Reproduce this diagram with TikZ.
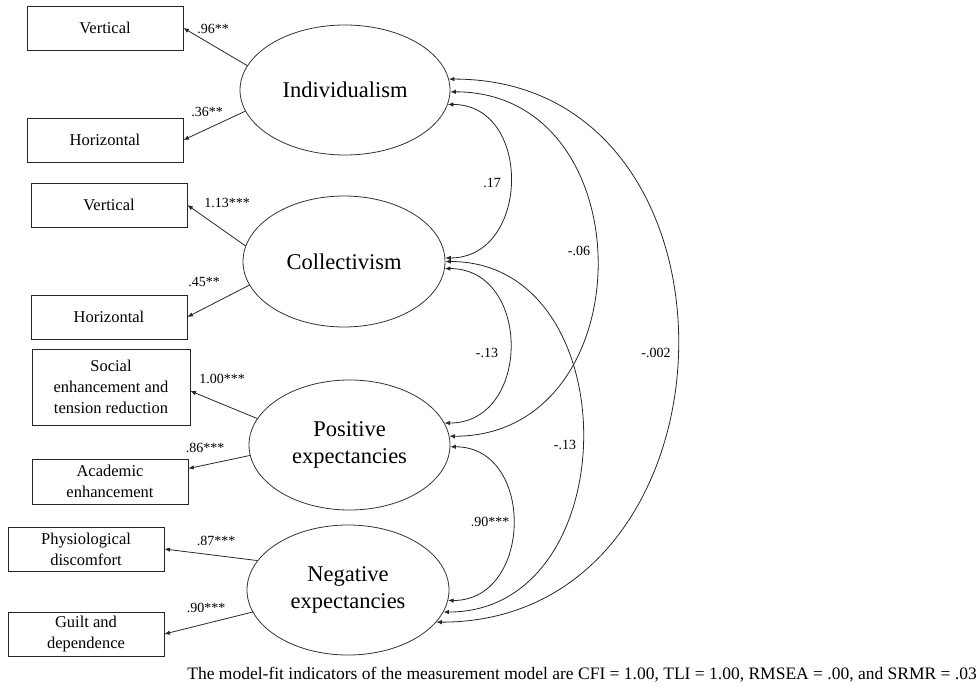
\documentclass[tikz,border=0pt]{standalone}
\usepackage{fontspec}
\setmainfont{Liberation Serif}
\usetikzlibrary{shapes.geometric,arrows.meta}
\tikzset{
  obs/.style={draw=black!85, line width=0.8pt, minimum width=156pt, minimum height=44pt,
    inner sep=0pt, align=center, font=\fontsize{16.5}{21}\selectfont},
  lat/.style={draw=black!80, line width=0.8pt, ellipse, inner sep=0pt, align=center,
    font=\fontsize{22.5}{27}\selectfont},
  load/.style={draw=black!85, line width=0.8pt, -{Latex[length=5.5pt,width=4.5pt]}},
  cov/.style={draw=black!85, line width=0.8pt, {Latex[length=5.5pt,width=4.5pt]}-{Latex[length=5.5pt,width=4.5pt]}},
  lab/.style={inner sep=0pt, font=\fontsize{14}{16}\selectfont}
}
\begin{document}
\begin{tikzpicture}[x=1pt,y=-1pt]
\useasboundingbox (0,0) rectangle (979,690);
% observed indicators
\node[obs] (vi) at (105,28) {Vertical};
\node[obs] (hi) at (105,140) {Horizontal};
\node[obs] (vc) at (109,205) {Vertical};
\node[obs] (hc) at (109,317) {Horizontal};
\node[obs, minimum width=158pt, minimum height=76pt] (sr) at (111,387) {Social\\enhancement and\\tension reduction};
\node[obs, minimum height=45pt] (ae) at (110,481.5) {Academic\\enhancement};
\node[obs] (pd) at (86,549) {Physiological\\discomfort};
\node[obs] (gd) at (86,634) {Guilt and\\dependence};
% latent factors
\node[lat, minimum width=210pt, minimum height=130pt] (ind) at (345,90) {Individualism};
\node[lat, minimum width=202pt, minimum height=131pt] (col) at (344,261.5) {Collectivism};
\node[lat, minimum width=201pt, minimum height=130pt] (pos) at (349.5,445) {Positive\\expectancies};
\node[lat, minimum width=202pt, minimum height=130pt] (neg) at (348,590) {Negative\\expectancies};
% loadings
\draw[load] (ind.166.2) -- (vi.east);
\draw[load] (ind.192.6) -- (hi.east);
\draw[load] (col.171.3) -- (vc.east);
\draw[load] (col.194.7) -- (hc.east);
\draw[load] (pos.164.9) -- ([yshift=-4pt]sr.east);
\draw[load] (pos.186.3) -- ([yshift=13pt]ae.east);
\draw[load] (neg.162.2) -- (pd.east);
\draw[load] (neg.193) -- (gd.east);
\node[lab] (l1) at (213,29) {.96**};
\node[lab] (l2) at (207,112) {.36**};
\node[lab] (l3) at (227,203) {1.13***};
\node[lab] (l4) at (204,282) {.45**};
\node[lab] (l5) at (222,379) {1.00***};
\node[lab] (l6) at (205,448) {.86***};
\node[lab] (l7) at (216,541) {.87***};
\node[lab] (l8) at (206,608) {.90***};
% covariances
\draw[cov] (ind.-8.4) .. controls +(85,0) and +(85,0) .. (col.2);
\draw[cov] (ind.-1.7) .. controls +(196,0) and +(196,0) .. (pos.5.75);
\draw[cov] (ind.6.1) .. controls +(313,0) and +(313,0) .. (neg.-20.8);
\draw[cov] (col.-4.3) .. controls +(87,0) and +(87,0) .. (pos.13.7);
\draw[cov] (col.-0.9) .. controls +(184,0) and +(184,0) .. (neg.-13.7);
\draw[cov] (pos.-1.7) .. controls +(85,0) and +(85,0) .. (neg.-6.3);
\node[lab] (c1) at (492,183) {.17};
\node[lab] (c2) at (579,251) {-.06};
\node[lab] (c3) at (656,353) {-.002};
\node[lab] (c4) at (487,353) {-.13};
\node[lab] (c5) at (565,445) {-.13};
\node[lab] (c6) at (490,522) {.90***};
% caption
\node[lab, anchor=east, font=\fontsize{17.5}{20}\selectfont] (cap) at (977,675) {The model-fit indicators of the measurement model are CFI = 1.00, TLI = 1.00, RMSEA = .00, and SRMR = .03};
\end{tikzpicture}
\end{document}
